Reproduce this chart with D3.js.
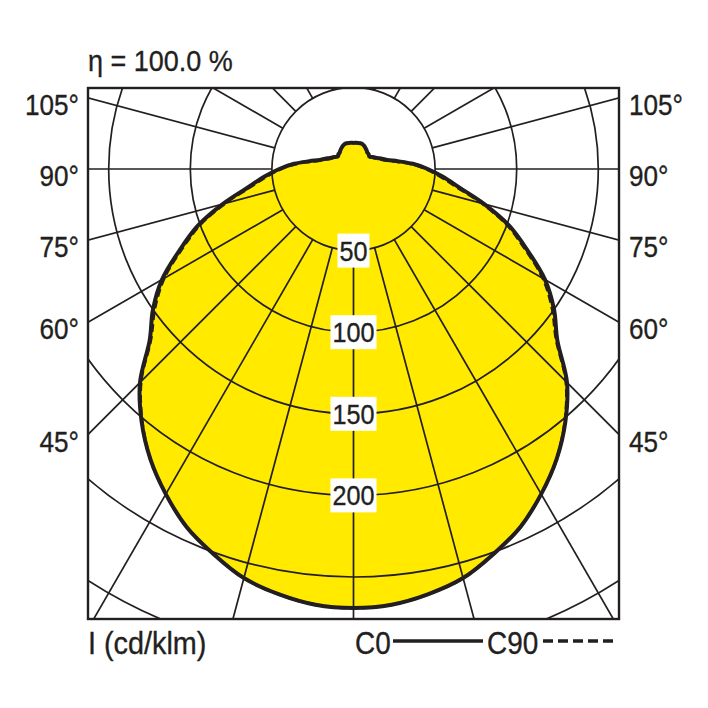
<!DOCTYPE html>
<html>
<head>
<meta charset="utf-8">
<script src="https://cdn.jsdelivr.net/npm/d3@7"></script>
<style>
  html, body { margin: 0; padding: 0; background: #fff; }
  svg text { font-family: "Liberation Sans", Arial, sans-serif; fill: #231f20; stroke: #231f20; stroke-width: 0.35px; }
</style>
</head>
<body>
<svg id="chart" width="708" height="708"></svg>
<script>
// gamma angles (deg from nadir) and intensities in cd/klm
const gammaAngles = [0, 5, 10, 15, 20, 25, 30, 35, 40, 45, 50, 55, 60, 65, 70, 75, 80, 85, 90,
                     95, 100, 105, 110, 115, 120, 125, 130, 135, 140, 145, 150, 155, 160, 165, 170, 175, 180];
const c0Values = [269, 268, 264.5, 259.5, 251, 242, 230, 217, 202, 185, 163, 150, 135.5, 117.5, 101.5, 83, 66, 55, 45.5,
                  36.5, 27.5, 21.5, 18.5, 16, 14.5, 13, 12.5, 13, 13.2, 14, 14.8, 15.6, 16.2, 16.3, 16.2, 16.1, 16];
const c90Values = [269, 268, 264.5, 259.5, 251, 242, 230, 217, 201.5, 184, 162, 148.5, 134, 116, 100, 81.5, 64.5, 53.5, 44.5,
                   35.5, 26.5, 20.5, 17.5, 15.2, 13.8, 12.4, 12, 12.6, 13, 13.8, 14.7, 15.6, 16.2, 16.3, 16.2, 16.1, 16];

const gridCircles = [50, 100, 150, 200, 250, 300];
const gridAngles = [0, 15, 30, 45, 60, 75, 90, 105, 120, 135, 150, 165, 180];
const circleLabels = [50, 100, 150, 200];
const sideLabels = [105, 90, 75, 60, 45];

const titleText = "η = 100.0 %";
const unitText = "I (cd/klm)";
const legendNames = ["C0", "C90"];

const ink = "#231f20", yellow = "#ffea00";
const box = {x0: 88, y0: 88, x1: 619, y1: 619};
const cx = (box.x0 + box.x1) / 2, cy = 169;
const narrow = 0.9;   // condensed look

const r = d3.scaleLinear().domain([0, 300]).range([0, 489.6]);
const rad = d => d * Math.PI / 180;

const svg = d3.select("#chart");

const addText = (sel, x, y, str, size, anchor) =>
  sel.append("text")
    .attr("transform", `translate(${x},${y}) scale(${narrow},1)`)
    .attr("text-anchor", anchor || "start")
    .attr("font-size", size)
    .text(str);

svg.append("defs").append("clipPath").attr("id", "boxclip")
  .append("rect").attr("x", box.x0).attr("y", box.y0)
  .attr("width", box.x1 - box.x0).attr("height", box.y1 - box.y0);

const plot = svg.append("g").attr("clip-path", "url(#boxclip)");
const g = plot.append("g").attr("transform", `translate(${cx},${cy})`);

// closed outline: left half nadir->zenith, right half back down
const outline = vals => {
  const pts = gammaAngles.map((a, i) => [Math.PI + rad(a), r(vals[i])]);
  for (let i = gammaAngles.length - 2; i > 0; i--)
    pts.push([3 * Math.PI - rad(gammaAngles[i]), r(vals[i])]);
  return pts;
};
const radial = d3.lineRadial().angle(d => d[0]).radius(d => d[1]).curve(d3.curveCatmullRomClosed.alpha(0.5));

g.append("path").attr("d", radial(outline(c0Values))).attr("fill", yellow).attr("stroke", "none");

// grid circles
g.selectAll("circle.grid").data(gridCircles).enter().append("circle")
  .attr("class", "grid").attr("r", d => r(d))
  .attr("fill", "none").attr("stroke", ink).attr("stroke-width", 1.7);

// radial lines start on the 50 circle
const spokes = [];
gridAngles.forEach(a => {
  spokes.push(Math.PI + rad(a));
  if (a > 0 && a < 180) spokes.push(Math.PI - rad(a));
});
g.selectAll("line.spoke").data(spokes).enter().append("line")
  .attr("class", "spoke")
  .attr("x1", d => r(50) * Math.sin(d)).attr("y1", d => -r(50) * Math.cos(d))
  .attr("x2", d => r(500) * Math.sin(d)).attr("y2", d => -r(500) * Math.cos(d))
  .attr("stroke", ink).attr("stroke-width", 1.7);

// curves
g.append("path").attr("d", radial(outline(c0Values)))
  .attr("fill", "none").attr("stroke", ink).attr("stroke-width", 4).attr("stroke-linejoin", "round");
g.append("path").attr("d", radial(outline(c90Values)))
  .attr("fill", "none").attr("stroke", ink).attr("stroke-width", 3).attr("stroke-dasharray", "8,4");

// circle value labels on the nadir line
circleLabels.forEach(v => {
  const lg = g.append("g").attr("transform", `translate(0,${r(v)})`);
  const rect = lg.append("rect").attr("fill", "#fff").attr("stroke", "none");
  const t = addText(lg, 0, 10, v, 28, "middle");
  const w = t.node().getBBox().width * narrow;
  rect.attr("x", -w / 2 - 2).attr("width", w + 4).attr("y", -17).attr("height", 34);
});

// frame
svg.append("rect").attr("x", box.x0).attr("y", box.y0)
  .attr("width", box.x1 - box.x0).attr("height", box.y1 - box.y0)
  .attr("fill", "none").attr("stroke", ink).attr("stroke-width", 2.4);

// angle labels where the spokes meet the frame
const halfW = box.x1 - cx;
const sideY = a => cy + halfW * Math.tan(rad(90 - a)) + 17;
sideLabels.forEach(a => {
  addText(svg, box.x0 - 9, sideY(a), a + "°", 29, "end");
  addText(svg, box.x1 + 10, sideY(a), a + "°", 29, "start");
});

// title and footer
addText(svg, box.x0, 71, titleText, 30);
addText(svg, box.x0, 654, unitText, 32);

addText(svg, 355, 654, legendNames[0], 31);
svg.append("line").attr("x1", 393).attr("x2", 483).attr("y1", 641).attr("y2", 641)
  .attr("stroke", ink).attr("stroke-width", 3.4);
addText(svg, 487, 654, legendNames[1], 31);
svg.append("line").attr("x1", 543).attr("x2", 617).attr("y1", 641).attr("y2", 641)
  .attr("stroke", ink).attr("stroke-width", 3.4).attr("stroke-dasharray", "10,5");
</script>
</body>
</html>
